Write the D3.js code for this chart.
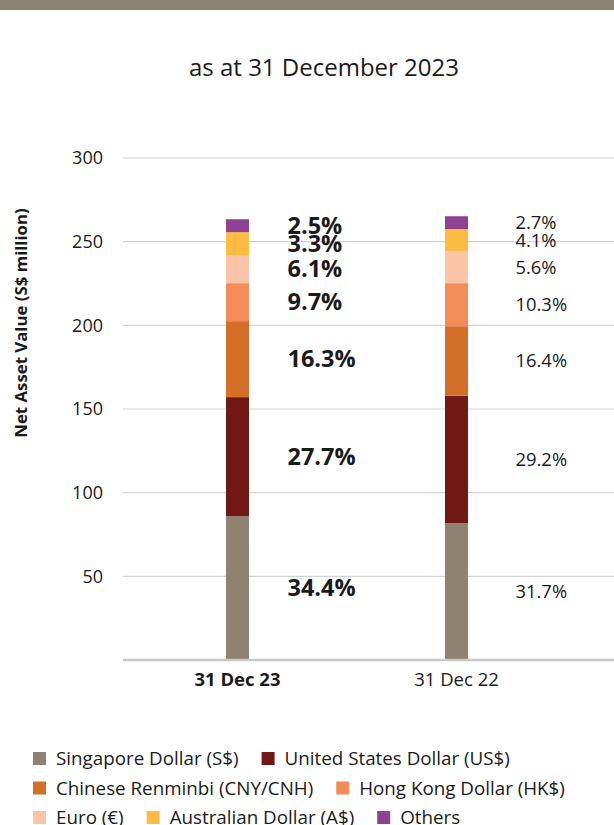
<!DOCTYPE html>
<html>
<head>
<meta charset="utf-8">
<script src="https://d3js.org/d3.v7.min.js"></script>
<style>
    body { margin: 0; background: #fff; }
    text { font-family: "Open Sans", "Noto Sans", sans-serif; fill: #1a1a1a; }
</style>
</head>
<body>
<svg id="nav_chart" width="614" height="825"></svg>
<script>

// data (S$ million)
const dates = ['31 Dec 23', '31 Dec 22']
const currencies = ['Singapore Dollar (S$)', 'United States Dollar (US$)', 'Chinese Renminbi (CNY/CNH)',
                    'Hong Kong Dollar (HK$)', 'Euro (€)', 'Australian Dollar (A$)', 'Others']
const dec23 = [86.0, 71.1, 45.4, 22.7, 16.7, 13.8, 7.7]
const dec22 = [81.8, 76.1, 41.6, 25.7, 19.1, 13.2, 7.7]
const pct23 = ['34.4%', '27.7%', '16.3%', '9.7%', '6.1%', '3.3%', '2.5%']
const pct22 = ['31.7%', '29.2%', '16.4%', '10.3%', '5.6%', '4.1%', '2.7%']
const yTicks = [50, 100, 150, 200, 250, 300]
const colors = ['#8f8270', '#731915', '#d46f29', '#f28d5a', '#fbc4a6', '#fbbc41', '#8f4292']

const svg = d3.select('svg#nav_chart')
const width = +svg.attr('width')

// brown band across the top
svg.append('rect')
   .attr('x', 0).attr('y', 0)
   .attr('width', width).attr('height', 10)
   .attr('fill', '#8f8270')

svg.append('text')
   .text('as at 31 December 2023')
   .attr('x', 324).attr('y', 76)
   .attr('text-anchor', 'middle')
   .attr('font-size', '24px')

const y = d3.scaleLinear().domain([0, 300]).range([660, 158])
const x = d3.scaleBand().domain(dates).range([128, 566])
const barW = 23

// grid
svg.append('g').selectAll('line')
   .data(yTicks)
   .join('line')
   .attr('x1', 123).attr('x2', width)
   .attr('y1', d => y(d)).attr('y2', d => y(d))
   .attr('stroke', '#d3d3d3')
   .attr('stroke-width', 1.2)

const yAxis = svg.append('g')
   .attr('transform', 'translate(109,0)')
   .call(d3.axisLeft(y).tickValues(yTicks).tickSize(0).tickPadding(6))
yAxis.select('path.domain').remove()
yAxis.selectAll('text')
     .attr('font-size', '18px')
     .attr('font-family', '"Open Sans", sans-serif')
     .attr('fill', '#333')

svg.append('text')
   .text('Net Asset Value (S$ million)')
   .attr('transform', 'translate(27,' + 323 + ') rotate(-90)')
   .attr('text-anchor', 'middle')
   .attr('font-size', '16.8px')
   .attr('font-weight', 'bold')

// stacked bars
const series = [
    {date: dates[0], values: dec23, labels: pct23, bold: true, dx: 50},
    {date: dates[1], values: dec22, labels: pct22, bold: false, dx: 59}
]

series.forEach(s => {
    let acc = 0
    const segs = s.values.map((v, i) => {
        const seg = {y0: acc, y1: acc + v, i: i, label: s.labels[i]}
        acc += v
        return seg
    })
    const cx = x(s.date) + x.bandwidth() / 2
    const g = svg.append('g')

    g.selectAll('rect')
     .data(segs)
     .join('rect')
     .attr('x', cx - barW / 2)
     .attr('width', barW)
     .attr('y', d => y(d.y1))
     .attr('height', d => y(d.y0) - y(d.y1))
     .attr('fill', d => colors[d.i])

    g.selectAll('text')
     .data(segs)
     .join('text')
     .text(d => d.label)
     .attr('x', cx + s.dx)
     .attr('y', d => y((d.y0 + d.y1) / 2))
     .attr('dy', '0.35em')
     .attr('font-size', s.bold ? '23.5px' : '18.4px')
     .attr('font-weight', s.bold ? 'bold' : 'normal')

    svg.append('text')
       .text(s.date)
       .attr('x', cx)
       .attr('y', 686)
       .attr('text-anchor', 'middle')
       .attr('font-size', '18.5px')
       .attr('font-weight', s.bold ? 'bold' : 'normal')
})

// baseline
svg.append('line')
   .attr('x1', 123).attr('x2', width)
   .attr('y1', y(0)).attr('y2', y(0))
   .attr('stroke', '#c8c8c8')
   .attr('stroke-width', 2.5)

// legend, flowing left to right in three rows
const legendRows = [[0, 1], [2, 3], [4, 5, 6]]
const legend = svg.append('g')
legendRows.forEach((row, r) => {
    let lx = 33
    const ly = 758.5 + r * 29.5
    row.forEach(i => {
        legend.append('rect')
              .attr('x', lx).attr('y', ly - 6.5)
              .attr('width', 13).attr('height', 13)
              .attr('fill', colors[i])
        const t = legend.append('text')
              .text(currencies[i])
              .attr('x', lx + 23).attr('y', ly)
              .attr('dy', '0.35em')
              .attr('font-size', '18.8px')
              .attr('fill', '#333')
        lx += 23 + t.node().getComputedTextLength() + 23
    })
})

</script>
</body>
</html>
